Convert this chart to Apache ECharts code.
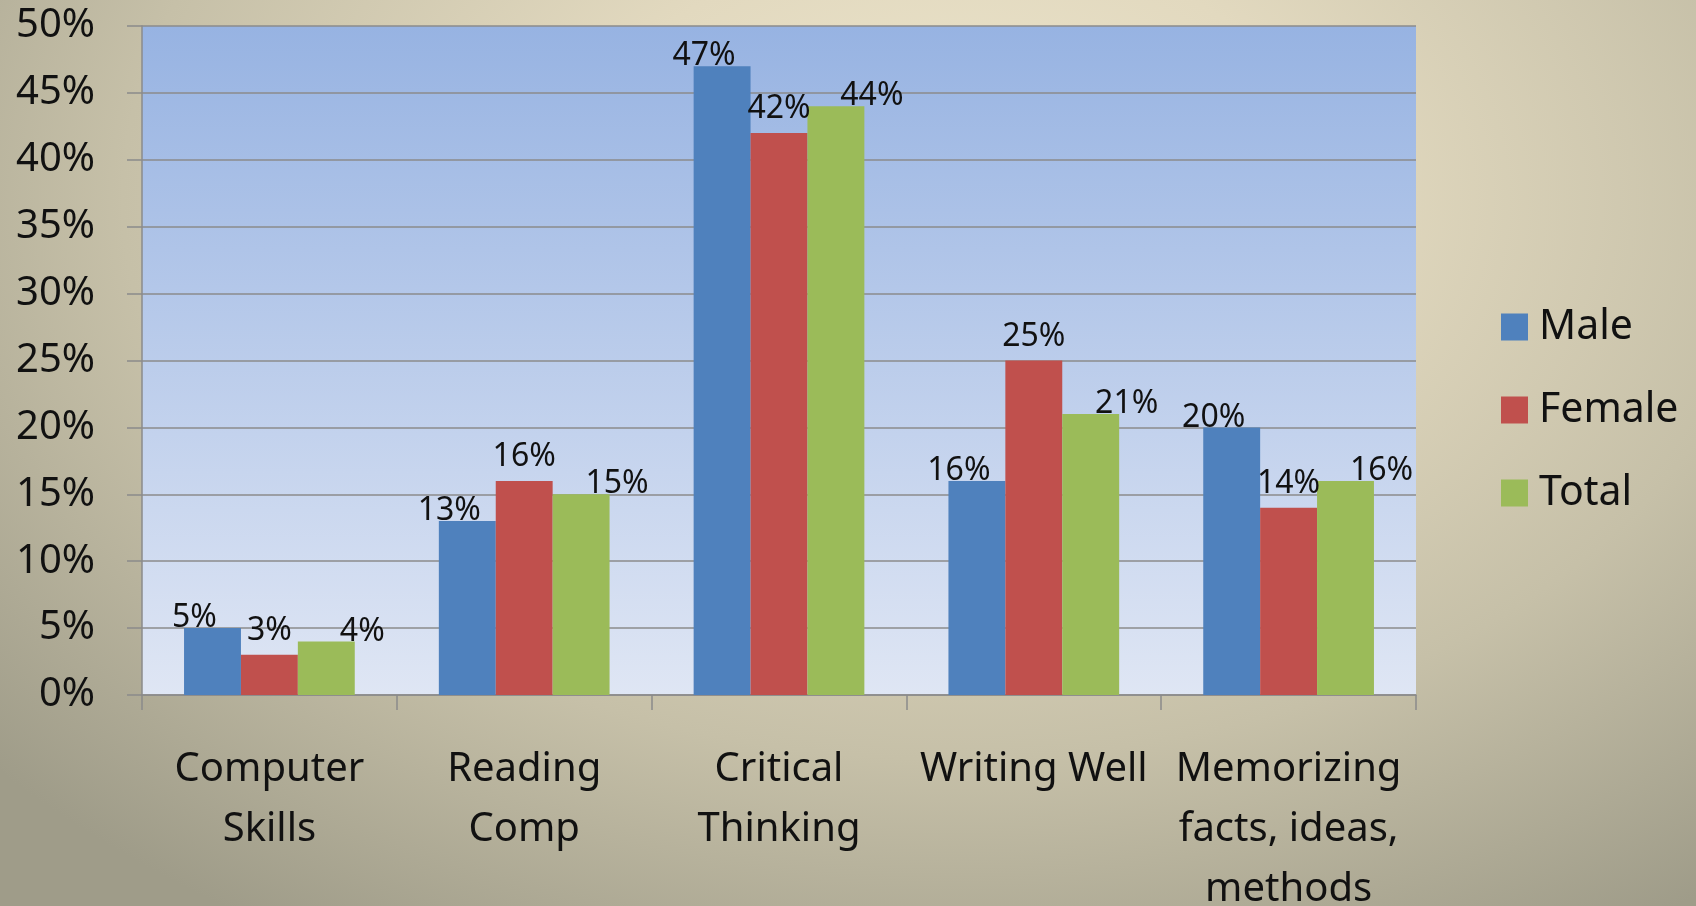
<!DOCTYPE html>
<html>
	<head>
		<meta charset="utf-8" />
		<title></title>
		<script src="https://cdn.jsdelivr.net/npm/echarts@6.0.0/dist/echarts.min.js" type="text/javascript"></script>
		<style>
			body {
				margin: 0;
				overflow: hidden;
			}
			#main {
				width: 1696px;
				height: 906px;
				background: radial-gradient(ellipse 75% 95% at 56% 22%, #ede6cd 0%, #e2d9bf 30%, #c6c0a8 65%, #9f9c89 100%);
			}
		</style>
	</head>
	<body>
		<div id="main"></div>
		<script>
			var categories = ['Computer\nSkills', 'Reading\nComp', 'Critical\nThinking', 'Writing Well', 'Memorizing\nfacts, ideas,\nmethods'];
			var male = [5, 13, 47, 16, 20];
			var female = [3, 16, 42, 25, 14];
			var total = [4, 15, 44, 21, 16];
			var yTicks = [0, 5, 10, 15, 20, 25, 30, 35, 40, 45, 50];

			var font = 'Noto Sans';
			var gridColor = '#8b8b8b';

			// excel puts the data labels a bit off-centre, so each series gets its own offset
			function barLabel(offset) {
				return {
					show: true,
					position: 'top',
					distance: 0,
					offset: offset,
					formatter: '{c}%',
					color: '#111',
					fontFamily: font,
					fontSize: 32
				};
			}

			var init = echarts.init(document.getElementById('main'));
			var option = {
				backgroundColor: 'transparent',
				animation: false,
				color: ['#4f81bd', '#c0504d', '#9bbb59'],
				grid: {
					left: 142,
					right: 280,
					top: 26,
					bottom: 211,
					outerBoundsMode: 'none', // the last label runs off the bottom, like the original
					show: true,
					borderWidth: 0,
					backgroundColor: new echarts.graphic.LinearGradient(0, 0, 0, 1, [{
						offset: 0,
						color: '#97b3e2'
					}, {
						offset: 1,
						color: '#dfe6f4'
					}])
				},
				legend: {
					orient: 'vertical',
					left: 1496,
					top: 297,
					itemWidth: 27,
					itemHeight: 27,
					itemGap: 33,
					icon: 'rect',
					data: ['Male', 'Female', 'Total'],
					textStyle: {
						fontFamily: font,
						fontSize: 41,
						lineHeight: 50,
						color: '#111',
						padding: [0, 0, 0, 6]
					}
				},
				xAxis: {
					type: 'category',
					data: categories,
					axisLine: {
						lineStyle: {
							color: gridColor,
							width: 1.5
						}
					},
					axisTick: {
						show: true,
						length: 15,
						lineStyle: {
							color: gridColor,
							width: 1.5
						}
					},
					axisLabel: {
						interval: 0,
						margin: 45,
						fontFamily: font,
						fontSize: 40,
						lineHeight: 60,
						color: '#111'
					}
				},
				yAxis: {
					type: 'value',
					min: yTicks[0],
					max: yTicks[yTicks.length - 1],
					interval: yTicks[1] - yTicks[0],
					axisLine: {
						show: true,
						lineStyle: {
							color: gridColor,
							width: 1.5
						}
					},
					axisTick: {
						show: true,
						length: 15,
						lineStyle: {
							color: gridColor,
							width: 1.5
						}
					},
					splitLine: {
						lineStyle: {
							color: gridColor,
							width: 1.5
						}
					},
					axisLabel: {
						formatter: '{value}%',
						margin: 47,
						fontFamily: font,
						fontSize: 40,
						color: '#111'
					}
				},
				series: [{
					name: 'Male',
					type: 'bar',
					data: male,
					barGap: 0,
					barCategoryGap: '33%',
					label: barLabel([-18, 6])
				}, {
					name: 'Female',
					type: 'bar',
					data: female,
					barGap: 0,
					barCategoryGap: '33%',
					label: barLabel([0, -8])
				}, {
					name: 'Total',
					type: 'bar',
					data: total,
					barGap: 0,
					barCategoryGap: '33%',
					label: barLabel([36, 6])
				}]
			};
			init.setOption(option);
		</script>
	</body>
</html>
